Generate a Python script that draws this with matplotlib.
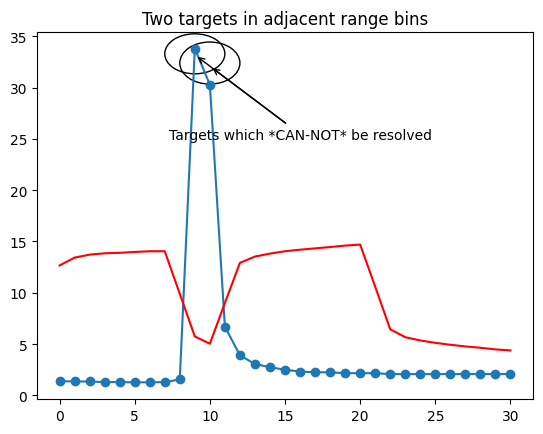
import matplotlib
matplotlib.use("Agg")
import matplotlib.pyplot as plt
from matplotlib.patches import Ellipse

# range bins
bins = list(range(31))

# received power per range bin
signal = [1.39, 1.35, 1.35, 1.29, 1.29, 1.27, 1.27, 1.29, 1.55, 33.8,
          30.3, 6.7, 3.9, 3.06, 2.74, 2.5, 2.32, 2.25, 2.25, 2.16,
          2.16, 2.16, 2.07, 2.07, 2.07, 2.07, 2.07, 2.07, 2.07, 2.07, 2.07]

# detection threshold
threshold = [12.66, 13.43, 13.72, 13.85, 13.9, 13.98, 14.05, 14.05, 9.9, 5.74,
             5.03, 9.0, 12.92, 13.53, 13.82, 14.05, 14.2, 14.33, 14.46, 14.6,
             14.7, 10.6, 6.44, 5.67, 5.35, 5.12, 4.93, 4.77, 4.64, 4.48, 4.38]

fig = plt.figure(figsize=(5.43, 4.35), dpi=100)
ax = fig.add_axes([37/543, 35/435, 496/543, 367/435])

ax.plot(bins, signal, 'o-')
ax.plot(bins, threshold, 'r')
ax.set_title('Two targets in adjacent range bins')

# circles around the two targets
ax.add_artist(Ellipse((9, 33.3), 4, 3.9, fill=False))
ax.add_artist(Ellipse((10, 32.4), 4, 4.1, fill=False))

ax.text(16, 25, 'Targets which *CAN-NOT* be resolved', ha='center')
# both arrows leave from the same spot above the text
ax.annotate('', xy=(9.18, 33.0), xytext=(15.04, 26.54),
            arrowprops=dict(arrowstyle='->', shrinkA=0, shrinkB=0))
ax.annotate('', xy=(10.18, 31.9), xytext=(15.04, 26.54),
            arrowprops=dict(arrowstyle='->', shrinkA=0, shrinkB=0))

fig.savefig('out.png')
